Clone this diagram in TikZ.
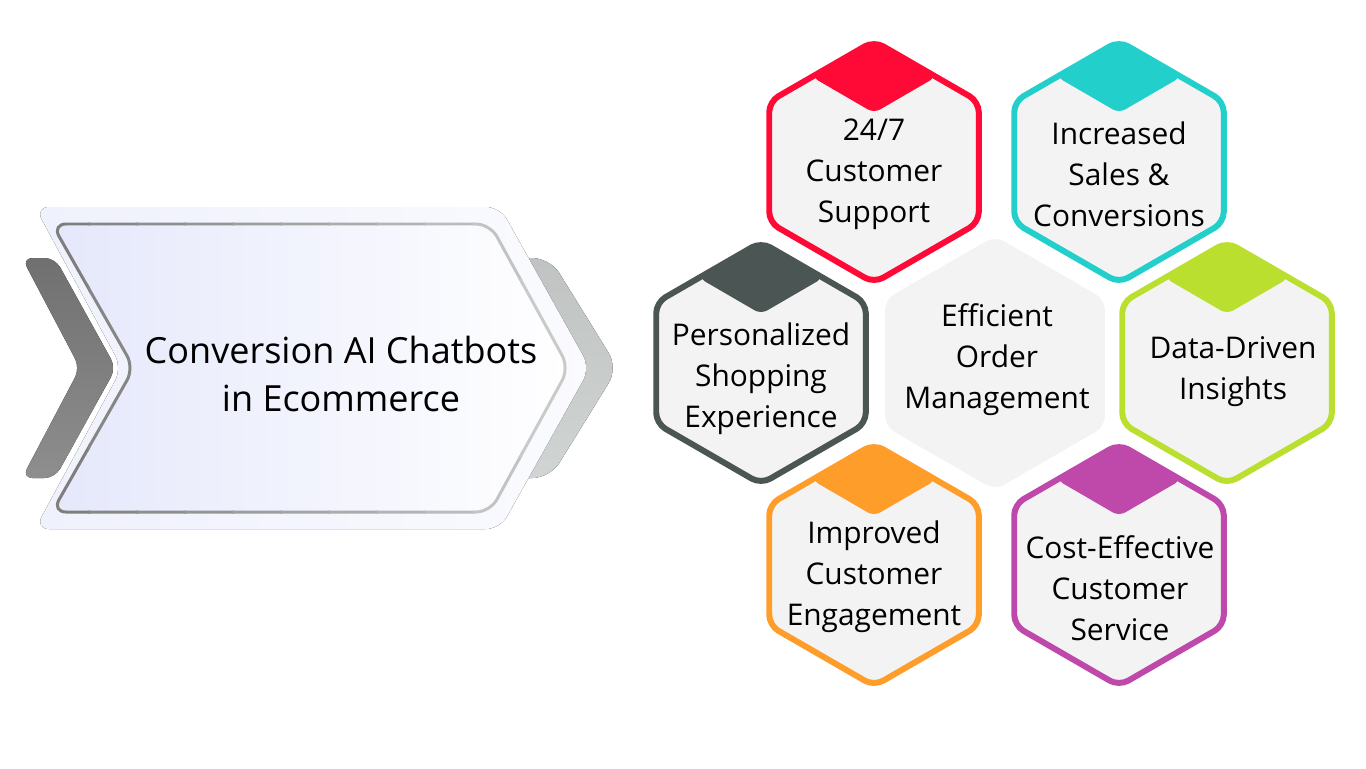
\documentclass[tikz,border=0pt]{standalone}
\usepackage{fontspec}
\setmainfont{Open Sans}
\usetikzlibrary{shapes.geometric}

\definecolor{capred}{HTML}{FF0A37}
\definecolor{capteal}{HTML}{22CFCB}
\definecolor{capdark}{HTML}{4B5553}
\definecolor{capgreen}{HTML}{BBDF2F}
\definecolor{caporange}{HTML}{FF9D2A}
\definecolor{cappurple}{HTML}{BF48AB}
\definecolor{hexfill}{HTML}{F3F3F3}
\definecolor{chevlav}{HTML}{E5E8FB}
\definecolor{halolav}{HTML}{EFF1FC}
\definecolor{borderdark}{HTML}{7E7E7E}
\definecolor{borderlight}{HTML}{D0D4D3}
\definecolor{bandtop}{HTML}{707070}
\definecolor{bandbottom}{HTML}{8E8E8E}

\tikzset{
  hexcell/.style={regular polygon, regular polygon sides=6, shape border rotate=30,
    minimum size=4.84cm, inner sep=0pt, line width=3.4pt, fill=hexfill,
    rounded corners=6pt},
  hextext/.style={align=center, inner sep=0pt, font=\fontsize{17}{23.3}\selectfont},
  mainchev/.style={insert path={(52,224) -- (490,224) -- (569,368) -- (490,512)
    -- (52,512) -- (134,368) -- cycle}}
}

\begin{document}
\begin{tikzpicture}[x=0.02cm, y=-0.02cm]
  \useasboundingbox (0,0) rectangle (1366,768);

  % gray bands behind the chevron
  \fill[rounded corners=6pt, top color=bandtop, bottom color=bandbottom]
    (22,258) -- (55,258) -- (116,368) -- (55,478) -- (22,478) -- (80,368) -- cycle;
  \fill[rounded corners=10pt, top color=borderlight!80!borderdark, bottom color=borderlight]
    (500,258) -- (550,258) -- (618,368) -- (550,478) -- (500,478) -- (568,368) -- cycle;

  % chevron
  \fill[rounded corners=8pt, left color=halolav, right color=white!70!halolav]
    (35,207) -- (500,207) -- (590,368) -- (500,529) -- (35,529) -- (122,368) -- cycle;
  \fill[rounded corners=8pt, left color=chevlav, right color=white, mainchev];
  \foreach \i [evaluate=\i as \mix using 100-\i*9] in {0,...,11}{
    \begin{scope}
      \clip (40+\i*48,200) rectangle (90+\i*48,540);
      \draw[rounded corners=8pt, line width=1.7pt, borderdark!\mix!borderlight, mainchev];
    \end{scope}
  }
  \node[align=center, font=\fontsize{20.5}{27.3}\selectfont] (title) at (341,374)
    {Conversion AI Chatbots\\in Ecommerce};

  % hexagons
  \node[hexcell, draw=capred] (sup) at (874,162) {};
  \node[hexcell, draw=capteal] (sal) at (1119,162) {};
  \node[hexcell, draw=capdark] (per) at (761,363) {};
  \node[hexcell, minimum size=5.08cm] (ord) at (995,363) {};
  \node[hexcell, draw=capgreen] (dat) at (1227,363) {};
  \node[hexcell, draw=caporange] (eng) at (874,565) {};
  \node[hexcell, draw=cappurple] (cost) at (1119,565) {};

  \foreach \h/\c in {sup/capred, sal/capteal, per/capdark, dat/capgreen,
                     eng/caporange, cost/cappurple}{
    \fill[\c, rounded corners=4pt, shift={(\h.center)}]
      (-62,-85) -- (-8,-116) -- (8,-116) -- (62,-85) -- (0,-49) -- cycle;
  }

  \node[hextext] (sup-t) at (874,174) {24/7\\Customer\\Support};
  \node[hextext] (sal-t) at (1119,174) {Increased\\Sales \&\\Conversions};
  \node[hextext] (per-t) at (761,379) {Personalized\\Shopping\\Experience};
  \node[hextext] (ord-t) at (997,360) {Efficient\\Order\\Management};
  \node[hextext] (dat-t) at (1233,372) {Data-Driven\\Insights};
  \node[hextext] (eng-t) at (874,577) {Improved\\Customer\\Engagement};
  \node[hextext] (cost-t) at (1120,588) {Cost-Effective\\Customer\\Service};
\end{tikzpicture}
\end{document}
